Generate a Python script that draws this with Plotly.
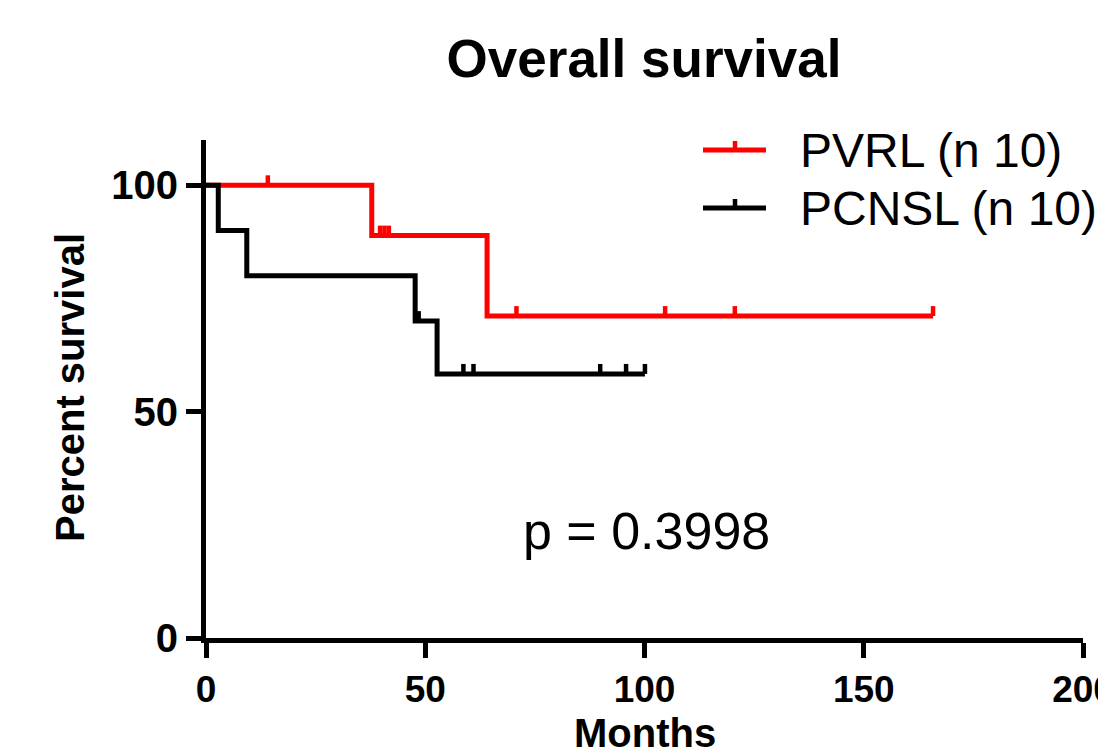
import plotly.graph_objects as go

# ---- Data (months, event flag: 1=death, 0=censored) ----
pvrl_times = [14.1, 37.8, 39.7, 40.7, 41.7, 64.1, 70.8, 104.7, 120.6, 165.8]
pvrl_events = [0, 1, 0, 0, 0, 1, 0, 0, 0, 0]
pcnsl_times = [2.8, 9.3, 47.7, 48.5, 52.7, 58.7, 61.0, 89.9, 95.8, 100.1]
pcnsl_events = [1, 1, 1, 0, 1, 0, 0, 0, 0, 0]

group_names = ["PVRL (n 10)", "PCNSL (n 10)"]
group_colors = ["#ff0000", "#000000"]
x_ticks = [0, 50, 100, 150, 200]
y_ticks = [0, 50, 100]
p_text = "p = 0.3998"


def km_curve(times, events):
    n_at_risk = len(times)
    s = 100.0
    xs, ys = [0.0], [100.0]
    cx, cy = [], []
    for t, e in sorted(zip(times, events)):
        if e == 1:
            s = s * (n_at_risk - 1) / n_at_risk
            xs.append(t)
            ys.append(s)
        else:
            cx.append(t)
            cy.append(s)
        n_at_risk -= 1
    last_t = max(times)
    if xs[-1] < last_t:
        xs.append(last_t)
        ys.append(s)
    return xs, ys, cx, cy


# page offset (browser body margin)
OFF = 8
PX0, PX1 = 206, 1083   # plot area left/right in page px
PY0, PY1 = 140, 638    # plot area top/bottom in page px
W, H = 1106 - OFF, 755 - OFF


def px(xp):
    return (xp - PX0) / (PX1 - PX0)


def py(yp):
    return (PY1 - yp) / (PY1 - PY0)


font_bold = "Liberation Sans, Arial, sans-serif"
fig = go.Figure()

for (times, events), name, color in zip(
    [(pvrl_times, pvrl_events), (pcnsl_times, pcnsl_events)], group_names, group_colors
):
    xs, ys, cx, cy = km_curve(times, events)
    fig.add_trace(go.Scatter(
        x=xs, y=ys, mode="lines", line=dict(color=color, width=5, shape="hv"),
        name=name, showlegend=False, cliponaxis=False,
    ))
    fig.add_trace(go.Scatter(
        x=cx, y=cy, mode="markers", marker=dict(size=1, opacity=0, color=color),
        error_y=dict(type="data", symmetric=False, array=[2.2] * len(cx),
                     arrayminus=[0] * len(cx), width=0, thickness=4.5, color=color),
        showlegend=False, cliponaxis=False, hoverinfo="skip",
    ))

# manual legend (line with small upward tick, like the reference)
leg_y = [150, 208]
for name, color, ly in zip(group_names, group_colors, leg_y):
    fig.add_shape(type="line", xref="paper", yref="paper", x0=px(703), x1=px(766),
                  y0=py(ly), y1=py(ly), line=dict(color=color, width=5))
    fig.add_shape(type="line", xref="paper", yref="paper", x0=px(735), x1=px(735),
                  y0=py(ly), y1=py(ly - 9), line=dict(color=color, width=4.5))
    fig.add_annotation(xref="paper", yref="paper", x=px(798), y=py(ly), text=name,
                       showarrow=False, xanchor="left", yanchor="middle",
                       font=dict(family="Liberation Sans, Arial", size=48, color="black"))

fig.add_annotation(xref="paper", yref="paper", x=px(646), y=py(531),
                   text=p_text, showarrow=False, xanchor="center", yanchor="middle",
                   font=dict(family="Liberation Sans, Arial", size=52, color="black"))

# axis titles
fig.add_annotation(xref="paper", yref="paper", x=px(645), y=py(733),
                   text="<b>Months</b>", showarrow=False, xanchor="center", yanchor="middle",
                   font=dict(family=font_bold, size=40, color="black"))
fig.add_annotation(xref="paper", yref="paper", x=px(70), y=py(388),
                   text="<b>Percent survival</b>", showarrow=False, textangle=-90,
                   xanchor="center", yanchor="middle",
                   font=dict(family=font_bold, size=40, color="black"))

fig.update_layout(
    width=W, height=H,
    margin=dict(l=PX0 - OFF, r=W - (PX1 - OFF), t=PY0 - OFF, b=H - (PY1 - OFF),
                autoexpand=False),
    paper_bgcolor="white", plot_bgcolor="white",
    title=dict(text="<b>Overall survival</b>", x=(644 - OFF) / W, xref="container",
               xanchor="center", y=1 - (58 - OFF) / H, yref="container", yanchor="middle",
               font=dict(family=font_bold, size=53, color="black")),
    xaxis=dict(range=[0, 200], tickvals=x_ticks, ticktext=[str(v) for v in x_ticks],
               showline=True, linewidth=5, linecolor="black", showgrid=False, zeroline=False,
               ticks="outside", ticklen=15, tickwidth=5, tickcolor="black",
               ticklabeloverflow="allow", automargin=False,
               tickfont=dict(family=font_bold, size=37, color="black", weight="bold")),
    yaxis=dict(range=[0, 110], tickvals=y_ticks, ticktext=[str(v) for v in y_ticks],
               showline=True, linewidth=5, linecolor="black", showgrid=False, zeroline=False,
               ticks="outside", ticklen=15, tickwidth=5, tickcolor="black",
               automargin=False,
               tickfont=dict(family=font_bold, size=40, color="black", weight="bold")),
    showlegend=False,
)

fig.write_html("out.html")
